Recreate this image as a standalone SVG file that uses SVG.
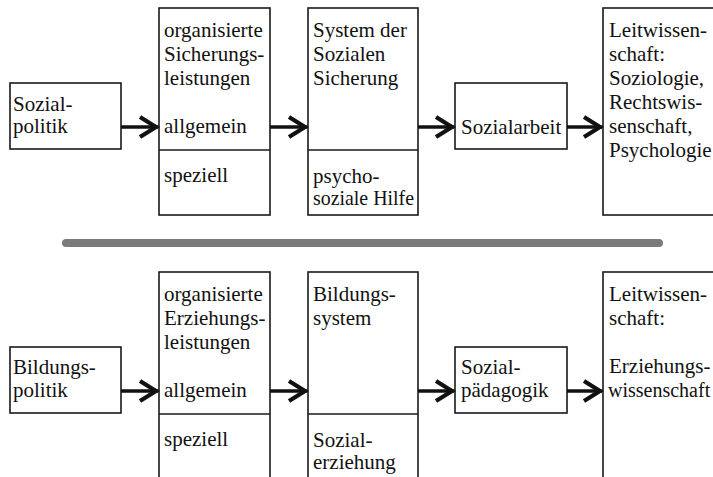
<svg xmlns="http://www.w3.org/2000/svg" width="713" height="477" viewBox="0 0 713 477" font-family="'Liberation Serif', 'Times New Roman', Times, serif">
<style>
.box{fill:#fff;stroke:#1a1a1a;stroke-width:1.6}
.div{stroke:#1a1a1a;stroke-width:1.6}
text{font-family:'Liberation Serif','Times New Roman',Times,serif;font-size:21px;fill:#111}
.conn{stroke:#111;stroke-width:3.5;fill:none}
</style>
<defs>
<marker id="arr" markerUnits="userSpaceOnUse" viewBox="-22 -13 24 26" refX="0" refY="0" markerWidth="24" markerHeight="26" orient="auto" overflow="visible">
<path d="M-18,-10 L-2,0 L-18,10" fill="none" stroke="#111" stroke-width="4.2" stroke-linejoin="miter"/>
</marker>
</defs>
<rect width="713" height="477" fill="#fff"/>

<g id="sozialpolitik">
<rect class="box" x="10" y="83" width="111" height="66"/>
<text x="13" y="111">Sozial-</text>
<text x="13" y="133">politik</text>
</g>
<g id="sicherungsleistungen">
<rect class="box" x="159" y="8" width="111" height="207"/>
<line class="div" x1="159" y1="150" x2="270" y2="150"/>
<text x="164" y="37">organisierte</text>
<text x="164" y="61">Sicherungs-</text>
<text x="164" y="85">leistungen</text>
<text x="164" y="133">allgemein</text>
<text x="164" y="182">speziell</text>
</g>
<g id="system-sozialen-sicherung">
<rect class="box" x="308" y="8" width="110" height="207"/>
<line class="div" x1="308" y1="150" x2="418" y2="150"/>
<text x="313" y="37">System der</text>
<text x="313" y="61">Sozialen</text>
<text x="313" y="85">Sicherung</text>
<text x="313" y="183">psycho-</text>
<text x="313" y="205" textLength="101" lengthAdjust="spacingAndGlyphs">soziale Hilfe</text>
</g>
<g id="sozialarbeit">
<rect class="box" x="455" y="83" width="112" height="66"/>
<text x="461" y="134">Sozialarbeit</text>
</g>
<g id="leitwissenschaft-top">
<rect class="box" x="603" y="8" width="130" height="207"/>
<text x="609" y="37">Leitwissen-</text>
<text x="609" y="61">schaft:</text>
<text x="609" y="85">Soziologie,</text>
<text x="609" y="109">Rechtswis-</text>
<text x="609" y="133">senschaft,</text>
<text x="609" y="157">Psychologie</text>
</g>

<line id="separator" x1="66" y1="243" x2="659" y2="243" stroke="#7b7b7b" stroke-width="8" stroke-linecap="round"/>

<g id="bildungspolitik">
<rect class="box" x="10" y="347" width="111" height="66"/>
<text x="13" y="374">Bildungs-</text>
<text x="13" y="397">politik</text>
</g>
<g id="erziehungsleistungen">
<rect class="box" x="159" y="272" width="111" height="230"/>
<line class="div" x1="159" y1="414" x2="270" y2="414"/>
<text x="164" y="301">organisierte</text>
<text x="164" y="325">Erziehungs-</text>
<text x="164" y="349">leistungen</text>
<text x="164" y="397">allgemein</text>
<text x="164" y="446">speziell</text>
</g>
<g id="bildungssystem">
<rect class="box" x="308" y="272" width="110" height="230"/>
<line class="div" x1="308" y1="414" x2="418" y2="414"/>
<text x="313" y="301">Bildungs-</text>
<text x="313" y="325">system</text>
<text x="313" y="447">Sozial-</text>
<text x="313" y="469">erziehung</text>
</g>
<g id="sozialpaedagogik">
<rect class="box" x="455" y="347" width="112" height="66"/>
<text x="461" y="374">Sozial-</text>
<text x="461" y="397">pädagogik</text>
</g>
<g id="leitwissenschaft-bottom">
<rect class="box" x="603" y="272" width="130" height="230"/>
<text x="609" y="301">Leitwissen-</text>
<text x="609" y="325">schaft:</text>
<text x="609" y="373">Erziehungs-</text>
<text x="608" y="397" style="font-size:20px">wissenschaft</text>
</g>

<g id="connectors">
<line class="conn" x1="121" y1="127" x2="158" y2="127" marker-end="url(#arr)"/>
<line class="conn" x1="270" y1="127" x2="307" y2="127" marker-end="url(#arr)"/>
<line class="conn" x1="418" y1="127" x2="454" y2="127" marker-end="url(#arr)"/>
<line class="conn" x1="567" y1="127" x2="602" y2="127" marker-end="url(#arr)"/>
<line class="conn" x1="121" y1="391" x2="158" y2="391" marker-end="url(#arr)"/>
<line class="conn" x1="270" y1="391" x2="307" y2="391" marker-end="url(#arr)"/>
<line class="conn" x1="418" y1="391" x2="454" y2="391" marker-end="url(#arr)"/>
<line class="conn" x1="567" y1="391" x2="602" y2="391" marker-end="url(#arr)"/>
</g>
</svg>
